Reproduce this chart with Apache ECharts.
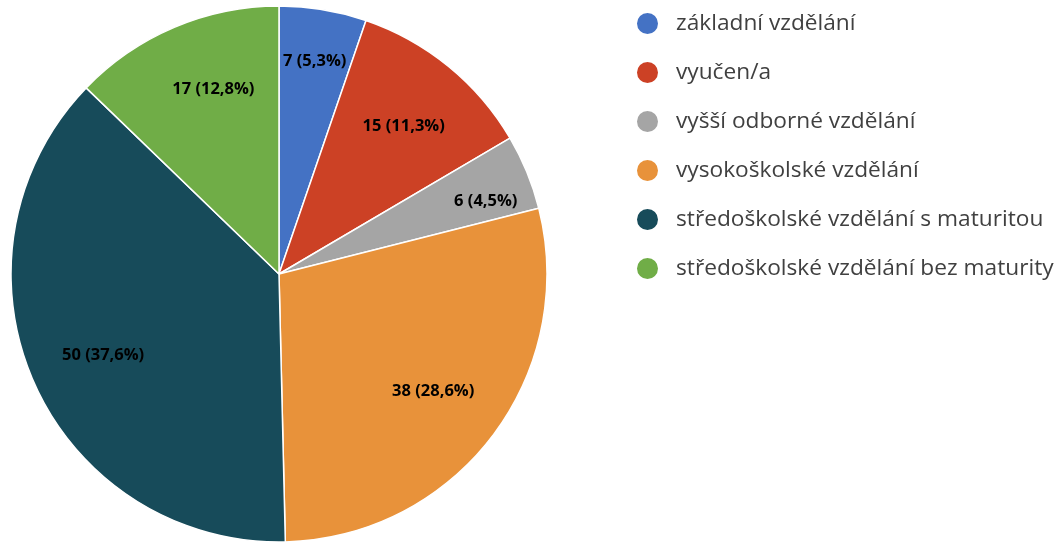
<!DOCTYPE html>
<html>
<head>
<meta charset="utf-8">
<script src="https://cdn.jsdelivr.net/npm/echarts@6/dist/echarts.min.js"></script>
<style>
  html, body { margin: 0; padding: 0; background: #fff; }
  #chart { width: 1064px; height: 542px; }
</style>
</head>
<body>
<div id="chart"></div>
<script>
const categories = [
  "základní vzdělání",
  "vyučen/a",
  "vyšší odborné vzdělání",
  "vysokoškolské vzdělání",
  "středoškolské vzdělání s maturitou",
  "středoškolské vzdělání bez maturity",
];
const counts = [7, 15, 6, 38, 50, 17];
const colors = ["#4472C4", "#CC4125", "#A5A5A5", "#E8923A", "#174B5A", "#70AD47"];

const total = counts.reduce((a, b) => a + b, 0);
const pieData = categories.map((name, i) => ({
  name,
  value: counts[i],
  itemStyle: { color: colors[i] },
}));

const fmtLabel = (p) => `${p.value} (${(p.value / total * 100).toFixed(1).replace(".", ",")}%)`;

// the thin slices have their labels pushed further out, like Excel does
const labelOffsets = [[3, -17], [-1, 6], [23, 3], [-4, -3], [6, 2], [12, -2]];

const center = [279, 274];
const radius = 268;

const chart = echarts.init(document.getElementById("chart"));
chart.setOption({
  animation: false,
  legend: {
    orient: "vertical",
    left: 630,
    top: 6,
    icon: "circle",
    itemWidth: 23,
    itemHeight: 23,
    itemGap: 24,
    textStyle: {
      fontFamily: "Open Sans",
      fontSize: 22.7,
      lineHeight: 23,
      color: "#404040",
      padding: [0, 0, 0, 12],
    },
    data: categories,
  },
  series: [
    {
      type: "pie",
      center,
      radius: [0, radius],
      startAngle: 90,
      clockwise: true,
      data: pieData,
      itemStyle: { borderColor: "#fff", borderWidth: 1.5 },
      label: { show: false },
      labelLine: { show: false },
      emphasis: { disabled: true },
    },
    {
      // transparent ring, only used to place labels further out than mid-radius
      type: "pie",
      center,
      radius: [radius * 0.46, radius],
      startAngle: 90,
      clockwise: true,
      silent: true,
      data: categories.map((name, i) => ({
        name,
        value: counts[i],
        label: { offset: labelOffsets[i] },
      })),
      itemStyle: { color: "rgba(0,0,0,0)", borderWidth: 0 },
      label: {
        show: true,
        position: "inside",
        formatter: fmtLabel,
        fontFamily: "Open Sans",
        fontWeight: "bold",
        fontSize: 16.5,
        color: "#000",
      },
      labelLine: { show: false },
      emphasis: { disabled: true },
    },
  ],
});
</script>
</body>
</html>
